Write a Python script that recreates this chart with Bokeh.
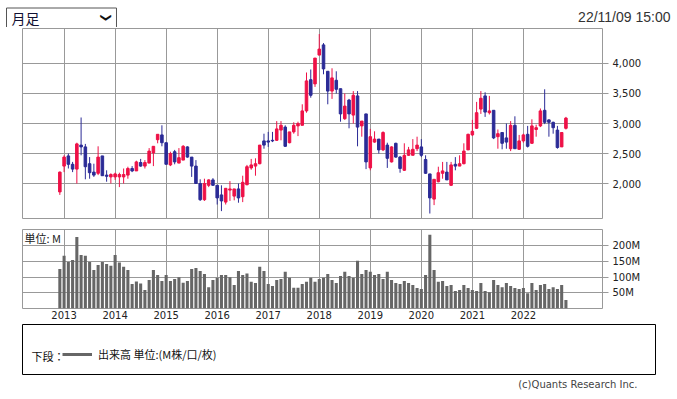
import math
import pandas as pd
from bokeh.plotting import figure
from bokeh.layouts import column
from bokeh.models import (Range1d, FixedTicker, NumeralTickFormatter, Label, Legend,
                          LegendItem, Title, ColumnDataSource)
from bokeh.embed import file_html
from bokeh.resources import INLINE

# ---- data (monthly candles, Dec 2012 .. Nov 2022) ----
months = pd.date_range("2012-12-01", periods=120, freq="MS")

opens = [1860, 2290, 2460, 2320, 2240, 2640, 2610, 2330, 2190, 2170, 2460, 2140,
         2110, 2110, 2110, 2110, 2140, 2250, 2210, 2350, 2290, 2340, 2510, 2730,
         2810, 2680, 2310, 2530, 2340, 2390, 2610, 2440, 2290, 2000, 1730, 1970,
         2060, 1970, 1810, 1690, 1890, 1790, 1910, 1780, 1980, 2260, 2290, 2330,
         2710, 2710, 2720, 2720, 2890, 2940, 2680, 2860, 2960, 2970, 3210, 3730,
         3660, 4140, 4310, 3870, 3540, 3720, 3580, 3080, 3390, 3140, 3460, 2960,
         3160, 2260, 2690, 2740, 2560, 2640, 2360, 2670, 2440, 2220, 2470, 2470,
         2580, 2610, 2400, 2160, 1740, 2030, 2170, 2190, 1970, 2320, 2290, 2330,
         2560, 2810, 2920, 3240, 3460, 3180, 3220, 2780, 2850, 2760, 2580, 2970,
         2570, 2710, 2820, 2670, 2900, 2960, 3220, 3060, 3020, 2890, 2610, 2920]
highs = [2200, 2470, 2500, 2360, 2680, 3100, 2660, 2440, 2330, 2620, 2460, 2220,
         2170, 2180, 2180, 2250, 2280, 2290, 2380, 2410, 2390, 2590, 2620, 2820,
         2970, 2680, 2530, 2560, 2590, 2640, 2620, 2440, 2390, 2070, 2080, 2070,
         2090, 1970, 1970, 1920, 2040, 1910, 2000, 2130, 2310, 2410, 2420, 2640,
         2830, 2860, 2860, 3040, 3040, 2970, 2860, 3020, 3030, 3320, 3850, 3900,
         4090, 4490, 4340, 3870, 3920, 3870, 3580, 3500, 3410, 3540, 3540, 3040,
         3160, 2910, 2870, 2740, 2870, 2680, 2620, 2680, 2460, 2670, 2610, 2740,
         2780, 2740, 2470, 2160, 2070, 2280, 2360, 2360, 2360, 2440, 2470, 2670,
         2830, 3060, 3360, 3540, 3520, 3460, 3220, 2900, 2850, 3000, 3040, 3120,
         2810, 2830, 2960, 3070, 2980, 3250, 3570, 3070, 3030, 2960, 2850, 3110]
lows = [1810, 2190, 2250, 2190, 2000, 2470, 2070, 2080, 2110, 2140, 2130, 2030,
        2000, 2060, 1940, 2000, 2080, 2190, 2210, 2280, 2250, 2340, 2290, 2670,
        2620, 2320, 2290, 2320, 2340, 2390, 2430, 2110, 2000, 1710, 1710, 1940,
        1960, 1650, 1540, 1650, 1710, 1720, 1680, 1690, 1970, 2230, 2130, 2320,
        2580, 2610, 2690, 2710, 2720, 2610, 2670, 2830, 2790, 2970, 3180, 3430,
        3610, 4140, 3820, 3320, 3410, 3500, 3030, 3060, 2920, 3000, 2620, 2780,
        2240, 2220, 2680, 2500, 2540, 2260, 2350, 2430, 2180, 2210, 2460, 2470,
        2540, 2440, 2160, 1500, 1640, 2020, 2080, 2060, 1960, 2220, 2290, 2320,
        2560, 2790, 2910, 3160, 3110, 3150, 2740, 2580, 2570, 2580, 2540, 2580,
        2560, 2680, 2600, 2660, 2780, 2940, 2990, 2780, 2830, 2580, 2610, 2900]
closes = [2190, 2440, 2320, 2240, 2660, 2610, 2280, 2180, 2140, 2440, 2130, 2120,
          2150, 2160, 2150, 2150, 2250, 2210, 2360, 2290, 2350, 2540, 2620, 2820,
          2680, 2320, 2500, 2360, 2430, 2620, 2440, 2290, 2000, 1730, 2000, 2060,
          1970, 1760, 1710, 1920, 1910, 1910, 1760, 2020, 2280, 2310, 2330, 2640,
          2640, 2690, 2710, 2910, 2970, 2620, 2860, 2970, 3000, 3210, 3710, 3470,
          4090, 4240, 3910, 3540, 3760, 3570, 3160, 3290, 3160, 3470, 2940, 3040,
          2360, 2780, 2740, 2560, 2850, 2420, 2610, 2440, 2250, 2470, 2560, 2570,
          2640, 2470, 2170, 1760, 2070, 2180, 2210, 2060, 2310, 2290, 2330, 2540,
          2820, 2870, 3180, 3420, 3190, 3210, 2760, 2830, 2670, 2690, 2970, 2580,
          2710, 2810, 2620, 2960, 2930, 3210, 3020, 3020, 2930, 2600, 2850, 3090]
volumes = [126, 168, 148, 155, 228, 171, 168, 148, 123, 139, 148, 142,
           136, 171, 147, 133, 123, 78, 86, 80, 59, 91, 123, 107,
           88, 107, 88, 94, 100, 82, 88, 126, 129, 120, 110, 68,
           91, 98, 107, 107, 100, 75, 120, 107, 112, 85, 81, 133,
           120, 78, 72, 91, 94, 117, 98, 66, 66, 78, 85, 98,
           85, 94, 98, 110, 91, 81, 104, 117, 104, 98, 152, 110,
           123, 117, 107, 110, 94, 117, 91, 81, 78, 88, 81, 75,
           65, 62, 107, 235, 123, 85, 88, 72, 75, 56, 59, 75,
           65, 59, 56, 81, 56, 52, 91, 75, 68, 81, 72, 65,
           62, 65, 49, 81, 59, 75, 78, 62, 68, 62, 75, 27]
price_ticks = [2000, 2500, 3000, 3500, 4000]
volume_ticks = [50, 100, 150, 200]
volume_tick_labels = ["50M", "100M", "150M", "200M"]

# ---- derived ----
x = list(range(len(opens)))
year_ticks = [i for i, m in enumerate(months) if m.month == 1]
year_labels = {i: str(months[i].year) for i in year_ticks}
UP, DOWN = "#EE1147", "#2B2B96"
colors = [UP if c >= o else DOWN for o, c in zip(opens, closes)]
src = ColumnDataSource(dict(
    x=x, h=highs, l=lows,
    top=[max(o, c) for o, c in zip(opens, closes)],
    bottom=[min(o, c) for o, c in zip(opens, closes)],
    color=colors))

W = 677
GRID = "#999999"
TICKFONT = "DejaVu Sans"
CJK = "Noto Sans CJK JP"
xr = Range1d(-8.78, 127.6)

# ---- header (period selector + timestamp) ----
p0 = figure(width=W, height=27, x_range=Range1d(0, 1), y_range=Range1d(0, 1),
            output_backend="svg", toolbar_location=None, x_axis_location=None,
            y_axis_location=None, min_border_left=0, min_border_right=0,
            min_border_top=0, min_border_bottom=0, frame_align=False)
p0.grid.visible = False
p0.outline_line_color = None
p0.border_fill_color = "white"
p0.add_layout(Label(x=6, y=9.5, x_units="screen", y_units="screen", text="月足",
                    text_font=CJK, text_font_size="14px", text_color="#111133",
                    text_baseline="middle", background_fill_color="white",
                    border_line_color="#555555", border_line_width=1,
                    padding=dict(left=5, right=77, top=0, bottom=0)))
p0.add_layout(Label(x=106, y=10, x_units="screen", y_units="screen", text="❯",
                    angle=-math.pi / 2,
                    text_font="DejaVu Sans", text_font_size="11px",
                    text_color="#111111", text_align="center", text_baseline="middle"))
p0.add_layout(Label(x=670, y=11, x_units="screen", y_units="screen", text="22/11/09 15:00",
                    text_font="Liberation Sans", text_font_size="14px", text_color="#333333",
                    text_align="right", text_baseline="middle"))

# ---- price panel ----
p1 = figure(width=W, height=195, x_range=xr, y_range=Range1d(1417, 4583),
            output_backend="svg", toolbar_location=None, x_axis_location=None,
            y_axis_location="right", min_border_left=22, min_border_right=75,
            min_border_top=1, min_border_bottom=4)
p1.outline_line_color = GRID
p1.border_fill_color = "white"
p1.xgrid.ticker = FixedTicker(ticks=year_ticks)
p1.xgrid.grid_line_color = GRID
p1.ygrid.grid_line_color = GRID
ya = p1.yaxis[0]
ya.ticker = FixedTicker(ticks=price_ticks)
ya.formatter = NumeralTickFormatter(format="0,0")
ya.axis_line_color = None
ya.major_tick_out = 6
ya.major_tick_in = 0
ya.major_tick_line_color = GRID
ya.major_label_standoff = 4
ya.major_label_text_font = TICKFONT
ya.major_label_text_font_size = "10px"
ya.major_label_text_color = "#222222"

p1.segment(x0="x", y0="h", x1="x", y1="l", line_color="color", line_width=1, source=src)
p1.vbar(x="x", width=0.6, top="top", bottom="bottom", fill_color="color",
        line_color="color", line_width=1, source=src)

# ---- volume panel ----
p2 = figure(width=W, height=101, x_range=xr, y_range=Range1d(0, 252),
            output_backend="svg", toolbar_location=None, y_axis_location="right",
            min_border_left=22, min_border_right=75, min_border_top=7, min_border_bottom=15)
p2.outline_line_color = GRID
p2.border_fill_color = "white"
p2.xgrid.ticker = FixedTicker(ticks=year_ticks)
p2.xgrid.grid_line_color = GRID
p2.ygrid.grid_line_color = GRID
xa = p2.xaxis[0]
xa.ticker = FixedTicker(ticks=year_ticks)
xa.major_label_overrides = year_labels
xa.axis_line_color = None
xa.major_tick_out = 0
xa.major_tick_in = 0
xa.minor_tick_out = 0
xa.minor_tick_in = 0
xa.major_label_standoff = 2
xa.major_label_text_font = TICKFONT
xa.major_label_text_font_size = "10px"
xa.major_label_text_color = "#222222"
va = p2.yaxis[0]
va.ticker = FixedTicker(ticks=volume_ticks)
va.major_label_overrides = dict(zip(volume_ticks, volume_tick_labels))
va.axis_line_color = None
va.major_tick_out = 6
va.major_tick_in = 0
va.minor_tick_out = 0
va.minor_tick_in = 0
va.major_tick_line_color = GRID
va.major_label_standoff = 4
va.major_label_text_font = TICKFONT
va.major_label_text_font_size = "10px"
va.major_label_text_color = "#222222"

p2.vbar(x=x, top=volumes, width=0.72, fill_color="#666666", line_color=None)
p2.add_layout(Label(x=2, y=71, x_units="screen", y_units="screen", text="単位: M",
                    text_font=CJK, text_font_size="11px", text_color="#222222",
                    text_baseline="middle"))

# ---- legend box ----
p3 = figure(width=W, height=76, x_range=Range1d(0, 1), y_range=Range1d(0, 1),
            output_backend="svg", toolbar_location=None, x_axis_location=None,
            y_axis_location=None, min_border_left=22, min_border_right=22,
            min_border_top=1, min_border_bottom=25, frame_align=False)
p3.grid.visible = False
p3.outline_line_color = "black"
p3.border_fill_color = "white"
nan = float("nan")
r = p3.line(x=[nan], y=[nan], line_color="#666666", line_width=3)
p3.add_layout(Legend(items=[LegendItem(label="出来高 単位:(M株/口/枚)", renderers=[r])],
                     location=(40, 12), padding=0, margin=0, glyph_width=30, glyph_height=14,
                     label_height=14, label_standoff=6, border_line_color=None,
                     background_fill_alpha=0, label_text_font=CJK,
                     label_text_font_size="11px", label_text_color="#111111"))
p3.add_layout(Label(x=9, y=19, x_units="screen", y_units="screen", text="下段：",
                    text_font=CJK, text_font_size="11px", text_color="#111111",
                    text_baseline="middle"))
p3.add_layout(Title(text="(c)Quants Research Inc.", align="right", offset=18, standoff=5,
                    text_font=TICKFONT, text_font_size="10px", text_font_style="normal",
                    text_color="#444444"), "below")

layout = column(p0, p1, p2, p3, spacing=0)
open("out.html", "w").write(file_html(layout, INLINE))
